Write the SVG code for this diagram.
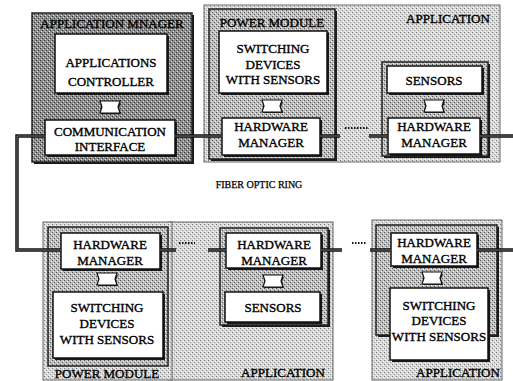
<svg xmlns="http://www.w3.org/2000/svg" width="513" height="381" viewBox="0 0 513 381" font-family="'Liberation Serif', 'DejaVu Serif', serif">
<defs>
<pattern id="pDark" width="4" height="4" patternUnits="userSpaceOnUse">
<rect width="4" height="4" fill="#8e8e8e"/>
<rect x="0" y="0" width="1" height="1" fill="#333"/>
<rect x="2" y="2" width="1" height="1" fill="#333"/>
<rect x="1" y="3" width="1" height="1" fill="#ddd"/>
<rect x="3" y="1" width="1" height="1" fill="#ddd"/>
</pattern>
<pattern id="pMid" width="4" height="4" patternUnits="userSpaceOnUse">
<rect width="4" height="4" fill="#bdbdbd"/>
<rect x="0" y="0" width="1" height="1" fill="#555"/>
<rect x="2" y="2" width="1" height="1" fill="#555"/>
<rect x="1" y="3" width="1" height="1" fill="#f2f2f2"/>
<rect x="3" y="1" width="1" height="1" fill="#f2f2f2"/>
</pattern>
<pattern id="pLight" width="4" height="4" patternUnits="userSpaceOnUse">
<rect width="4" height="4" fill="#d8d8d8"/>
<rect x="0" y="0" width="1" height="1" fill="#777"/>
<rect x="2" y="2" width="1" height="1" fill="#999"/>
<rect x="1" y="3" width="1" height="1" fill="#fff"/>
<rect x="3" y="1" width="1" height="1" fill="#fff"/>
</pattern>
<g id="conn">
<path d="M-9,-4 H11 L9,1 L11,7 H-9 Z" fill="#222"/>
<path d="M-10,-6 H10 L8,0 L10,6 H-10 L-8,0 Z" fill="#fff" stroke="#111" stroke-width="1.2"/>
</g>
</defs>
<style>
text{font-family:"Liberation Serif","Times New Roman","DejaVu Serif",serif}
.t{font-size:13px;fill:#000;stroke:#000;stroke-width:0.35;text-anchor:middle}
.s{font-size:10px;stroke-width:0.25}
.sh{fill:#1a1a1a}
.wb{fill:#fff;stroke:#111;stroke-width:1.5}
.dk{fill:url(#pDark);stroke:#222;stroke-width:1.5}
.md{fill:url(#pMid);stroke:#222;stroke-width:1.5}
.lt{fill:url(#pLight);stroke:#666;stroke-width:1}
.ring{fill:none;stroke:#111;stroke-width:3.5}
.ringc{fill:none;stroke:#888;stroke-width:0.8}
.dots{fill:none;stroke:#111;stroke-width:2;stroke-dasharray:1.5 1.5}
</style>
<rect width="513" height="381" fill="#fff"/>

<g id="app-manager">
<rect class="sh" x="34" y="15" width="160" height="149"/>
<rect class="dk" x="32" y="13" width="160" height="149"/>
<text class="t" x="112" y="28">APPLICATION MNAGER</text>
<rect class="sh" x="57" y="36" width="112" height="59"/>
<rect class="wb" x="55" y="34" width="112" height="59"/>
<text class="t" x="111" y="67">APPLICATIONS</text>
<text class="t" x="111" y="86">CONTROLLER</text>
<use href="#conn" x="110" y="107"/>
<rect class="sh" x="47" y="122" width="130" height="35"/>
<rect class="wb" x="45" y="120" width="130" height="35"/>
<text class="t" x="110" y="135.5">COMMUNICATION</text>
<text class="t" x="110" y="150.5">INTERFACE</text>
</g>

<g id="app-top">
<rect class="lt" x="204" y="5" width="296" height="157"/>
<text class="t" x="448" y="23">APPLICATION</text>
<rect class="sh" x="384" y="64" width="106" height="94"/>
<rect class="md" x="382" y="62" width="106" height="94"/>
<rect class="sh" x="389" y="68" width="95" height="27"/>
<rect class="wb" x="387" y="66" width="95" height="27"/>
<text class="t" x="434" y="84.5">SENSORS</text>
<use href="#conn" x="434" y="106"/>
<rect class="sh" x="390" y="120" width="92" height="36"/>
<rect class="wb" x="388" y="118" width="92" height="36"/>
<text class="t" x="434" y="131">HARDWARE</text>
<text class="t" x="434" y="147">MANAGER</text>
</g>

<g id="pm-top">
<rect class="sh" x="211" y="11" width="126" height="150"/>
<rect class="md" x="209" y="9" width="126" height="150"/>
<text class="t" x="272" y="27">POWER MODULE</text>
<rect class="sh" x="221" y="33" width="108" height="62"/>
<rect class="wb" x="219" y="31" width="108" height="62"/>
<text class="t" x="273" y="53">SWITCHING</text>
<text class="t" x="273" y="68.5">DEVICES</text>
<text class="t" x="273" y="84">WITH SENSORS</text>
<use href="#conn" x="272" y="106"/>
<rect class="sh" x="224" y="120" width="98" height="37"/>
<rect class="wb" x="222" y="118" width="98" height="37"/>
<text class="t" x="271" y="131">HARDWARE</text>
<text class="t" x="271" y="147">MANAGER</text>
</g>

<text class="t s" x="259" y="188">FIBER OPTIC RING</text>

<g id="app-bottom-mid">
<rect class="lt" x="168" y="222" width="165" height="158"/>
<rect class="sh" x="222" y="230" width="108" height="97"/>
<rect class="md" x="220" y="228" width="108" height="97"/>
<rect class="sh" x="228" y="235" width="95" height="35"/>
<rect class="wb" x="226" y="233" width="95" height="35"/>
<text class="t" x="274" y="249">HARDWARE</text>
<text class="t" x="274" y="264.5">MANAGER</text>
<use href="#conn" x="273" y="281"/>
<rect class="sh" x="227" y="294" width="95" height="30"/>
<rect class="wb" x="225" y="292" width="95" height="30"/>
<text class="t" x="273" y="311.5">SENSORS</text>
<text class="t" x="283" y="377">APPLICATION</text>
</g>

<g id="pm-bottom">
<rect class="lt" x="43" y="222" width="129" height="158"/>
<rect class="md" x="48" y="227" width="120" height="139"/>
<rect class="sh" x="63" y="235" width="99" height="36"/>
<rect class="wb" x="61" y="233" width="99" height="36"/>
<text class="t" x="110" y="249">HARDWARE</text>
<text class="t" x="110" y="264.5">MANAGER</text>
<use href="#conn" x="107" y="279"/>
<rect class="sh" x="55" y="294" width="110" height="66"/>
<rect class="wb" x="53" y="292" width="110" height="66"/>
<text class="t" x="107" y="312">SWITCHING</text>
<text class="t" x="107" y="327.5">DEVICES</text>
<text class="t" x="107" y="343.5">WITH SENSORS</text>
<text class="t" x="107" y="378">POWER MODULE</text>
</g>

<g id="app-bottom-right">
<rect class="lt" x="372" y="220" width="130" height="160"/>
<rect class="sh" x="378" y="227" width="121" height="110"/>
<rect class="md" x="376" y="225" width="121" height="110"/>
<rect class="sh" x="393" y="235" width="86" height="33"/>
<rect class="wb" x="391" y="233" width="86" height="33"/>
<text class="t" x="434" y="246.5">HARDWARE</text>
<text class="t" x="434" y="262.5">MANAGER</text>
<use href="#conn" x="432" y="278"/>
<rect class="sh" x="392" y="290" width="98" height="72"/>
<rect class="wb" x="390" y="288" width="98" height="72"/>
<text class="t" x="439" y="309.5">SWITCHING</text>
<text class="t" x="439" y="325">DEVICES</text>
<text class="t" x="439" y="341">WITH SENSORS</text>
<text class="t" x="458" y="377">APPLICATION</text>
</g>

<g id="connectors">
<path class="ring" d="M45,136 H17 V250 H61"/>
<path class="ring" d="M175,136 H222 M320,136 H340 M369,136 H388 M480,136 H513"/>
<path class="ring" d="M160,250 H176 M208,250 H226 M321,250 H342 M370,250 H391 M477,250 H513"/>
<path class="ringc" d="M45,136 H17 V250 H61 M175,136 H222 M320,136 H340 M369,136 H388 M480,136 H513 M160,250 H176 M208,250 H226 M321,250 H342 M370,250 H391 M477,250 H513"/>
<path class="dots" d="M345,128 H368 M179,243 H195 M352,243 H366"/>
</g>
</svg>
